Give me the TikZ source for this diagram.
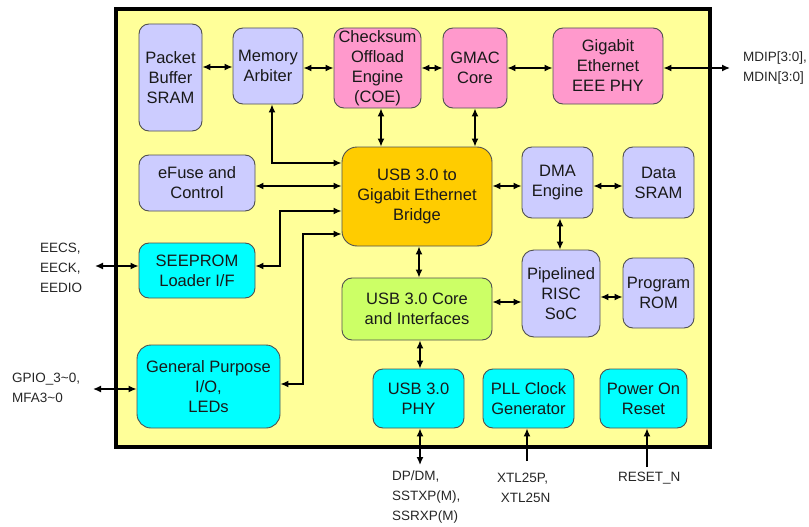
\documentclass[tikz,border=0pt]{standalone}
\usepackage{fontspec}
\setmainfont{Liberation Sans}
\usetikzlibrary{arrows.meta}
\definecolor{bgyellow}{HTML}{FFFF99}
\definecolor{lav}{HTML}{CCCCFF}
\definecolor{pinkc}{HTML}{FF99CC}
\definecolor{orangec}{HTML}{FFCC00}
\definecolor{cyanc}{HTML}{00FFFF}
\definecolor{greenc}{HTML}{CCFF66}
\definecolor{edgec}{HTML}{505050}
\begin{document}
\begin{tikzpicture}[x=1pt,y=-1pt,
  blk/.style={draw=edgec, line width=0.9pt, rounded corners=10pt, align=center, inner sep=0pt,
    font=\fontsize{16.5}{20}\selectfont, text=black!90},
  lbl/.style={align=left, inner sep=0pt, font=\fontsize{13.5}{20}\selectfont, text=black!85},
  conn/.style={line width=1.4pt, {Latex[length=8pt,width=7pt]}-{Latex[length=8pt,width=7pt]}},
  oneway/.style={line width=1.4pt, -{Latex[length=8pt,width=7pt]}}]
\useasboundingbox (0,0) rectangle (809,527);
\draw[line width=4pt, fill=bgyellow] (116,9) rectangle (709.5,447);

% top row
\node[blk, fill=lav, minimum width=63pt, minimum height=107pt] (pbs) at (170.5,77.5) {Packet\\Buffer\\SRAM};
\node[blk, fill=lav, minimum width=70pt, minimum height=76pt] (arb) at (268,66) {Memory\\Arbiter};
\node[blk, fill=pinkc, minimum width=87pt, minimum height=80pt] (coe) at (377.5,68) {Checksum\\Offload\\Engine\\(COE)};
\node[blk, fill=pinkc, minimum width=64pt, minimum height=80pt] (gmac) at (475,68) {GMAC\\Core};
\node[blk, fill=pinkc, minimum width=110pt, minimum height=76pt] (phy) at (608,66) {Gigabit\\Ethernet\\EEE PHY};

% middle
\node[blk, fill=orangec, rounded corners=15pt, minimum width=150pt, minimum height=99pt] (bridge) at (417,196.5) {USB 3.0 to\\Gigabit Ethernet\\Bridge};
\node[blk, fill=lav, minimum width=71pt, minimum height=71pt] (dma) at (557.5,182.5) {DMA\\Engine};
\node[blk, fill=lav, minimum width=71pt, minimum height=71pt] (dsram) at (658.5,182.5) {Data\\SRAM};
\node[blk, fill=lav, rounded corners=12pt, minimum width=78pt, minimum height=87pt] (risc) at (561,293.5) {Pipelined\\RISC\\SoC};
\node[blk, fill=lav, minimum width=71pt, minimum height=70pt] (prom) at (658.5,293) {Program\\ROM};
\node[blk, fill=greenc, minimum width=150pt, minimum height=62pt] (usbcore) at (417,309) {USB 3.0 Core\\and Interfaces};
\node[blk, fill=lav, minimum width=116pt, minimum height=56pt] (efuse) at (197,183) {eFuse and\\Control};
\node[blk, fill=cyanc, minimum width=116pt, minimum height=55pt] (seeprom) at (197,270.5) {SEEPROM\\Loader I/F};
\node[blk, fill=cyanc, rounded corners=14pt, minimum width=143pt, minimum height=83pt] (gpio) at (208.5,386.5) {General Purpose\\I/O,\\LEDs};

% bottom row
\node[blk, fill=cyanc, minimum width=91pt, minimum height=59pt] (usbphy) at (418.5,398.5) {USB 3.0\\PHY};
\node[blk, fill=cyanc, minimum width=91pt, minimum height=59pt] (pll) at (528.5,398.5) {PLL Clock\\Generator};
\node[blk, fill=cyanc, minimum width=87pt, minimum height=59pt] (por) at (643.5,398.5) {Power On\\Reset};

% external labels
\node[lbl, anchor=west] (mdi) at (743,68) {MDIP[3:0],\\MDIN[3:0]};
\node[lbl, anchor=west] (ee) at (40,268) {EECS,\\EECK,\\EEDIO};
\node[lbl, anchor=west] (gpiol) at (12,387.5) {GPIO\_3\textasciitilde0,\\MFA3\textasciitilde0};
\node[lbl, anchor=west] (dp) at (392,497) {DP/DM,\\SSTXP(M),\\SSRXP(M)};
\node[lbl, anchor=west] (xtl) at (497,487.5) {XTL25P,\\\ XTL25N};
\node[lbl, anchor=west] (rst) at (618,478) {RESET\_N};

% free ends
\coordinate (mdiend) at (730,68);
\coordinate (eeend) at (95,266);
\coordinate (gpioend) at (93,389);
\coordinate (usbend) at (420,465);
\coordinate (pllend) at (527,461);
\coordinate (porend) at (647,467);

% top row connectors
\draw[conn] (pbs.east |- 0,67) -- (arb.west |- 0,67);
\draw[conn] (arb.east |- 0,68) -- (coe.west |- 0,68);
\draw[conn] (coe.east |- 0,68) -- (gmac.west |- 0,68);
\draw[conn] (gmac.east |- 0,68) -- (phy.west |- 0,68);
\draw[conn] (phy.east |- 0,68) -- (mdiend);
\draw[conn] (coe.south -| 381,0) -- (bridge.north -| 381,0);
\draw[conn] (gmac.south) -- (bridge.north -| gmac.south);

% left connectors
\draw[conn] (arb.south -| 272,0) |- (bridge.west |- 0,163);
\draw[conn] (efuse.east |- 0,186) -- (bridge.west |- 0,186);
\draw[conn] (seeprom.east |- 0,266) -| (280,211) -- (bridge.west |- 0,211);
\draw[conn] (gpio.east |- 0,384) -| (303,234) -- (bridge.west |- 0,234);
\draw[conn] (eeend) -- (seeprom.west |- eeend);
\draw[conn] (gpioend) -- (gpio.west |- gpioend);

% right connectors
\draw[conn] (bridge.east |- 0,186) -- (dma.west |- 0,186);
\draw[conn] (dma.east |- 0,186) -- (dsram.west |- 0,186);
\draw[conn] (dma.south -| 560,0) -- (risc.north -| 560,0);
\draw[conn] (bridge.south -| 419,0) -- (usbcore.north -| 419,0);
\draw[conn] (usbcore.east |- 0,302) -- (risc.west |- 0,302);
\draw[conn] (risc.east |- 0,297) -- (prom.west |- 0,297);

% bottom connectors
\draw[conn] (usbcore.south -| 420,0) -- (usbphy.north -| 420,0);
\draw[conn] (usbphy.south -| usbend) -- (usbend);
\draw[oneway] (pllend) -- (pll.south -| pllend);
\draw[oneway] (porend) -- (por.south -| porend);
\end{tikzpicture}
\end{document}
